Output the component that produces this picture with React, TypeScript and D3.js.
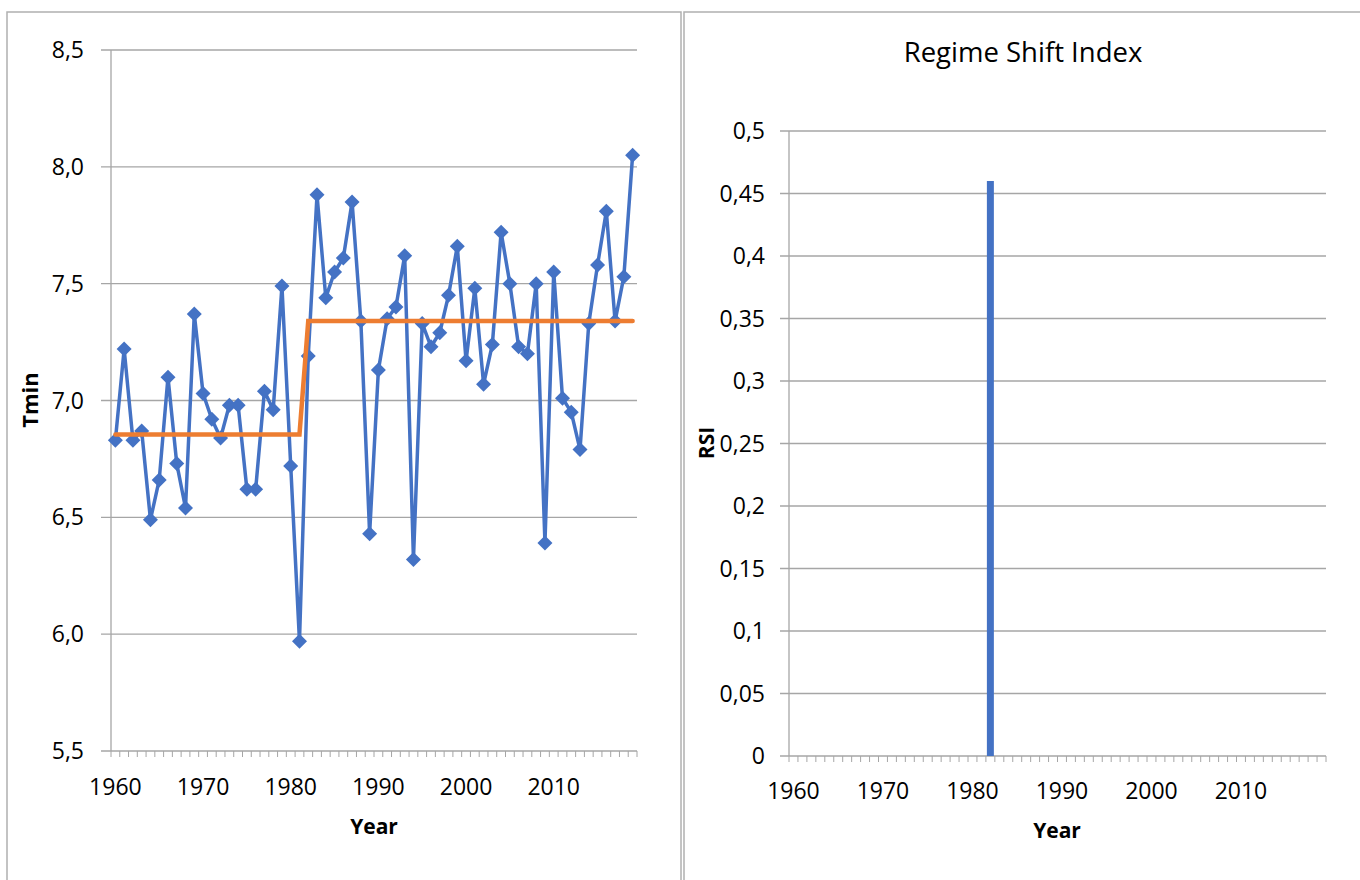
import React from "react";
import * as d3 from "d3";

const years: number[] = d3.range(1960, 2020);
const tmin: number[] = [
  6.83, 7.22, 6.83, 6.87, 6.49, 6.66, 7.10, 6.73, 6.54, 7.37,
  7.03, 6.92, 6.84, 6.98, 6.98, 6.62, 6.62, 7.04, 6.96, 7.49,
  6.72, 5.97, 7.19, 7.88, 7.44, 7.55, 7.61, 7.85, 7.34, 6.43,
  7.13, 7.35, 7.40, 7.62, 6.32, 7.33, 7.23, 7.29, 7.45, 7.66,
  7.17, 7.48, 7.07, 7.24, 7.72, 7.50, 7.23, 7.20, 7.50, 6.39,
  7.55, 7.01, 6.95, 6.79, 7.33, 7.58, 7.81, 7.34, 7.53, 8.05,
];
const regimeMeans: number[] = [6.855, 7.34];
const shiftYear = 1982;
const rsiValues: number[] = years.map((y) => (y === 1982 ? 0.46 : 0));
const leftTicks: number[] = [5.5, 6.0, 6.5, 7.0, 7.5, 8.0, 8.5];
const rightTicks: number[] = [0, 0.05, 0.1, 0.15, 0.2, 0.25, 0.3, 0.35, 0.4, 0.45, 0.5];
const xLabelYears: number[] = [1960, 1970, 1980, 1990, 2000, 2010];

const FONT = "'Open Sans', sans-serif";
const GRID = "#a6a6a6";
const BLUE = "#4472C4";
const ORANGE = "#ED7D31";

const fmtLeft = (v: number) => v.toFixed(1).replace(".", ",");
const fmtRight = (v: number) => (v === 0 ? "0" : String(+v.toFixed(2)).replace(".", ","));

function diamondPath(r: number): string {
  const p = d3.path();
  p.moveTo(0, -r);
  p.lineTo(r, 0);
  p.lineTo(0, r);
  p.lineTo(-r, 0);
  p.closePath();
  return p.toString();
}

function LeftChart() {
  const x0 = 111, x1 = 637, yTop = 50, yBot = 751;
  const x = d3.scaleBand<number>().domain(years).range([x0, x1]);
  const y = d3.scaleLinear().domain([5.5, 8.5]).range([yBot, yTop]);
  const cx = (yr: number) => (x(yr) as number) + x.bandwidth() / 2;
  const line = d3.line<number>().x((_, i) => cx(years[i])).y((d) => y(d));
  const regime = years.map((yr) => (yr < shiftYear ? regimeMeans[0] : regimeMeans[1]));
  const diamond = diamondPath(7.5);
  return (
    <g>
      {leftTicks.map((t) => (
        <g key={t}>
          <line x1={x0 - 10} x2={x1} y1={y(t)} y2={y(t)} stroke={GRID} strokeWidth={1.3} />
          <text x={84} y={y(t)} dy="0.35em" textAnchor="end" fontSize={23} fontFamily={FONT} fill="#000">
            {fmtLeft(t)}
          </text>
        </g>
      ))}
      <line x1={x0} x2={x0} y1={yTop} y2={yBot} stroke={GRID} strokeWidth={1.3} />
      {years.concat([2020]).map((yr, i) => {
        const xx = i < years.length ? (x(yr) as number) : x1;
        return <line key={yr} x1={xx} x2={xx} y1={yBot} y2={yBot + 6} stroke={GRID} strokeWidth={1} />;
      })}
      {xLabelYears.map((yr) => (
        <text key={yr} x={cx(yr)} y={795} textAnchor="middle" fontSize={23} fontFamily={FONT} fill="#000">
          {yr}
        </text>
      ))}
      <path d={line(tmin) as string} fill="none" stroke={BLUE} strokeWidth={3.5} strokeLinejoin="round" />
      {tmin.map((v, i) => (
        <path key={i} d={diamond} transform={`translate(${cx(years[i])},${y(v)})`} fill={BLUE} />
      ))}
      <path d={line(regime) as string} fill="none" stroke={ORANGE} strokeWidth={4.5} strokeLinecap="round" />
      <text x={374} y={834} textAnchor="middle" fontSize={21} fontWeight="bold" fontFamily={FONT} fill="#000">
        Year
      </text>
      <text transform="translate(38,400) rotate(-90)" textAnchor="middle" fontSize={22} fontWeight="bold" fontFamily={FONT} fill="#000">
        Tmin
      </text>
    </g>
  );
}

function RightChart() {
  const x0 = 789, x1 = 1326, yTop = 131, yBot = 756;
  const x = d3.scaleBand<number>().domain(years).range([x0, x1]).paddingInner(0.22).paddingOuter(0.11);
  const xs = d3.scaleBand<number>().domain(years).range([x0, x1]);
  const y = d3.scaleLinear().domain([0, 0.5]).range([yBot, yTop]);
  return (
    <g>
      <text x={1023} y={62} textAnchor="middle" fontSize={27.5} fontFamily={FONT} fill="#000">
        Regime Shift Index
      </text>
      {rightTicks.map((t) => (
        <g key={t}>
          <line x1={x0 - 9} x2={x1} y1={y(t)} y2={y(t)} stroke={GRID} strokeWidth={1.3} />
          <text x={765} y={y(t)} dy="0.35em" textAnchor="end" fontSize={23} fontFamily={FONT} fill="#000">
            {fmtRight(t)}
          </text>
        </g>
      ))}
      <line x1={x0} x2={x0} y1={yTop} y2={yBot} stroke={GRID} strokeWidth={1.3} />
      {years.concat([2020]).map((yr, i) => {
        const xx = i < years.length ? (xs(yr) as number) : x1;
        return <line key={yr} x1={xx} x2={xx} y1={yBot} y2={yBot + 6} stroke={GRID} strokeWidth={1} />;
      })}
      {rsiValues.map((v, i) =>
        v > 0 ? (
          <rect key={i} x={x(years[i]) as number} width={x.bandwidth()} y={y(v)} height={yBot - y(v)} fill={BLUE} />
        ) : null
      )}
      {xLabelYears.map((yr) => (
        <text key={yr} x={(xs(yr) as number) + xs.bandwidth() / 2} y={799} textAnchor="middle" fontSize={23} fontFamily={FONT} fill="#000">
          {yr}
        </text>
      ))}
      <text x={1057} y={838} textAnchor="middle" fontSize={21} fontWeight="bold" fontFamily={FONT} fill="#000">
        Year
      </text>
      <text transform="translate(714,443) rotate(-90)" textAnchor="middle" fontSize={21} fontWeight="bold" fontFamily={FONT} fill="#000">
        RSI
      </text>
    </g>
  );
}

export default function App() {
  return (
    <div style={{ position: "absolute", left: 0, top: 0 }}>
      <svg width={1360} height={880} style={{ display: "block", background: "#fff" }}>
        <rect x={0} y={0} width={1360} height={880} fill="#fff" />
        <rect x={7} y={12} width={674} height={880} fill="none" stroke="#b0b0b0" strokeWidth={1.5} />
        <rect x={684} y={12} width={700} height={880} fill="none" stroke="#b0b0b0" strokeWidth={1.5} />
        <LeftChart />
        <RightChart />
      </svg>
    </div>
  );
}
